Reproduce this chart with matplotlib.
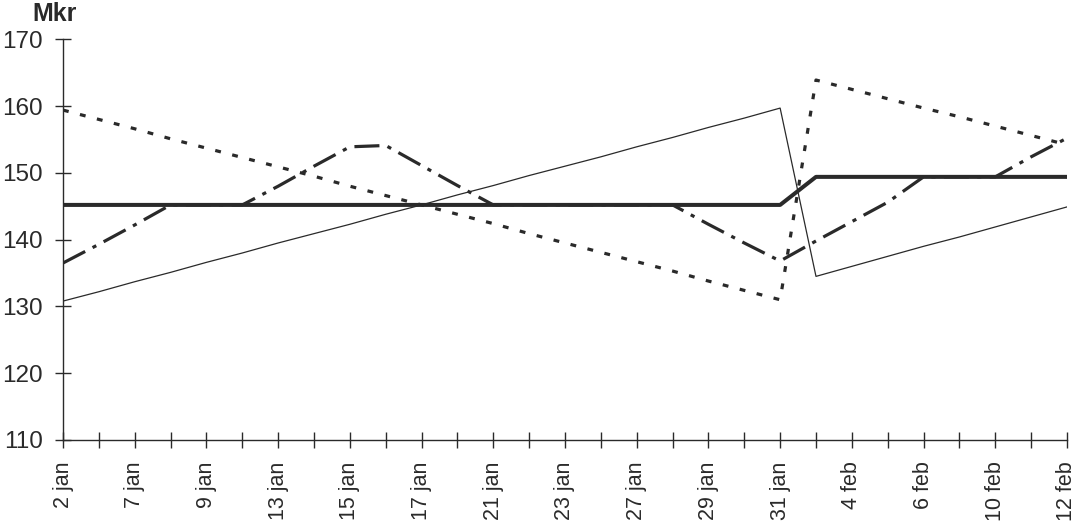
import numpy as np
import matplotlib.pyplot as plt
from matplotlib import font_manager

plt.rcParams['lines.scale_dashes'] = False

# tick labels shown on every second category
labels = ['2 jan', '7 jan', '9 jan', '13 jan', '15 jan', '17 jan', '21 jan', '23 jan',
          '27 jan', '29 jan', '31 jan', '4 feb', '6 feb', '10 feb', '12 feb']

thick = [145.2] * 21 + [149.4] * 8

thin = [130.8, 132.2, 133.7, 135.1, 136.6, 138.0, 139.5, 140.9, 142.3, 143.8,
        145.2, 146.7, 148.1, 149.6, 151.0, 152.4, 153.9, 155.3, 156.8, 158.2,
        159.7, 134.5, 136.0, 137.5, 139.0, 140.4, 141.9, 143.4, 144.9]

dotted = [159.4, 158.0, 156.6, 155.1, 153.7, 152.3, 150.9, 149.5, 148.0, 146.6,
          145.2, 143.8, 142.4, 140.9, 139.5, 138.1, 136.7, 135.3, 133.8, 132.4,
          131.0, 163.9, 162.5, 161.1, 159.7, 158.4, 157.0, 155.6, 154.2]

dashdot = [136.5, 139.3, 142.2, 145.2, 145.2, 145.2, 148.0, 151.0, 153.9, 154.1,
           151.1, 148.1, 145.2, 145.2, 145.2, 145.2, 145.2, 145.2, 142.3, 139.5,
           136.8, 139.8, 142.7, 145.6, 149.4, 149.4, 149.4, 152.4, 155.2]

x = np.arange(len(thick))
ink = '#2a2a2a'

# narrow face for the date labels if it exists, else a smaller regular one
names = {f.name for f in font_manager.fontManager.ttflist}
if 'Liberation Sans Narrow' in names:
    xfont, xsize = 'Liberation Sans Narrow', 19
else:
    xfont, xsize = 'Liberation Sans', 15.5

fig = plt.figure(figsize=(10.77, 5.26), dpi=100)
ax = fig.add_axes([0.0585, 0.1635, 0.9322, 0.7618])

ax.plot(x, thin, color=ink, lw=0.9)
ax.plot(x, dotted, color=ink, lw=2.3, dashes=(4.2, 8.4))
ax.plot(x, dashdot, color=ink, lw=2.3, dashes=(18, 6, 3, 6))
ax.plot(x, thick, color=ink, lw=2.9)

ax.set_xlim(0, len(x) - 1)
ax.set_ylim(110, 170)
ax.set_yticks(range(110, 171, 10))
ax.set_xticks(x)
shown = []
for i in x:
    shown.append(labels[i // 2] if i % 2 == 0 else '')
ax.set_xticklabels(shown, rotation=90, fontsize=xsize, family=xfont, color=ink)
for t in ax.get_yticklabels():
    t.set_fontsize(17.5)
    t.set_family('Liberation Sans')
    t.set_color(ink)

ax.spines['top'].set_visible(False)
ax.spines['right'].set_visible(False)
for s in ['left', 'bottom']:
    ax.spines[s].set_color(ink)
    ax.spines[s].set_linewidth(1.0)
ax.tick_params(axis='both', direction='inout', length=11, width=1.0, color=ink)
ax.tick_params(axis='x', pad=10)
ax.tick_params(axis='y', pad=9)

fig.text(0.0297, 0.997, 'Mkr', fontsize=18, fontweight='bold',
         family='Liberation Sans', color=ink, va='top', ha='left')

fig.savefig('out.png', dpi=100)
